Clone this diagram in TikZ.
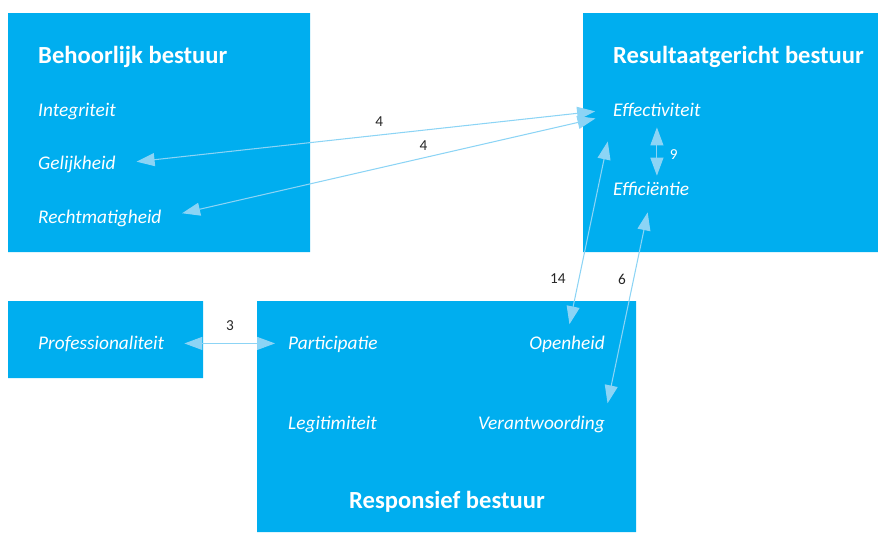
\documentclass[tikz,border=0pt]{standalone}
\usepackage{fontspec}
\setmainfont{Carlito}
\usepackage{tikz}
\usetikzlibrary{
    arrows.meta,
    calc,
    positioning
}
\definecolor{boxblue}{RGB}{0,174,239}
\definecolor{linkblue}{RGB}{140,212,245}
\tikzset{
    >={Triangle[length=5.4mm,width=3.9mm]},
    title/.style={anchor=base west, inner sep=0, text=white, font=\bfseries\fontsize{21}{25}\selectfont},
    item/.style={anchor=base west, inner sep=0, text=white, font=\itshape\fontsize{16.5}{20}\selectfont},
    numlabel/.style={inner sep=0, text=black!85, font=\fontsize{13}{15}\selectfont},
    link/.style={<->, draw=linkblue, line width=0.9pt}
}

\begin{document}
\begin{tikzpicture}[x=0.3mm, y=-0.3mm]
                        \useasboundingbox (0, 0) rectangle (878, 532);
                        \fill[boxblue]
                        (8, 13) rectangle (310, 252)
                        (583, 13) rectangle (878, 252)
                        (8, 301) rectangle (203, 378)
                        (257, 301) rectangle (636, 532);
                        \node[title] (behoorlijk) at (38, 63) {Behoorlijk bestuur};
                        \node[item] (integr) at (38, 116) {Integriteit};
                        \node[item] (gelijk) at (38, 169) {Gelijkheid};
                        \node[item] (recht) at (38, 223) {Rechtmatigheid};
                        \node[title] (resultaat) at (613, 63) {Resultaatgericht bestuur};
                        \node[item] (effect) at (613, 116) {Effectiviteit};
                        \node[item] (effic) at (613, 195) {Efficiëntie};
                        \node[item] (prof) at (38, 349) {Professionaliteit};
                        \node[item] (partic) at (288, 349) {Participatie};
                        \node[item, anchor=base east] (openh) at (605, 349) {Openheid};
                        \node[item] (legit) at (288, 429) {Legitimiteit};
                        \node[item, anchor=base east] (verant) at (605, 429) {Verantwoording};
                        \node[title, anchor=base] (responsief) at (447, 508) {Responsief bestuur};
                        \draw
                        (gelijk.east) edge[link, shorten <=6.3mm, shorten >=5.4mm] node[numlabel, pos=.53, above=2.4mm] {4} (effect.west)
                        (recht.east) edge[link, shorten <=6.3mm, shorten >=5.4mm] node[numlabel, pos=.58, above=2mm] {4} ([yshift=-1.5mm]effect.west)
                        (openh.north) edge[link, shorten <=3.4mm, shorten >=7.7mm] node[numlabel, pos=.26, left=3.9mm] {14} (effect.south west)
                        (verant.north east) edge[link, shorten <=3.7mm, shorten >=5.2mm] node[numlabel, pos=.62, left=2.2mm] {6} (effic.south)
                        (effect.south) edge[link, shorten <=3.3mm, shorten >=1.7mm] node[numlabel, text=white, pos=.58, right=3.7mm] {9} (effect.south |- effic.north)
                        (prof.east) edge[link, shorten <=6mm, shorten >=3.9mm] node[numlabel, pos=.53, above=3.6mm] {3} (prof.east -| partic.west);
                    \end{tikzpicture}
\end{document}
